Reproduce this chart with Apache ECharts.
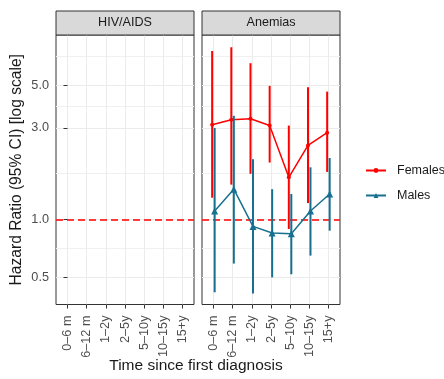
<!DOCTYPE html>
<html><head><meta charset="utf-8">
<script src="https://cdn.jsdelivr.net/npm/echarts@6/dist/echarts.min.js"></script>
<style>html,body{margin:0;padding:0;background:#fff}#c{width:444px;height:379px}</style>
</head><body><div id="c"></div>
<script>
const facets = ['HIV/AIDS', 'Anemias'];
const categories = ['0–6 m', '6–12 m', '1–2y', '2–5y', '5–10y', '10–15y', '15+y'];
const yTicks = [0.5, 1, 3, 5];
const yMinorTicks = [0.7071, 1.732, 3.873, 7.071];
const femalesHR = [3.11, 3.30, 3.34, 3.08, 1.66, 2.43, 2.83];
const femalesLow = [1.30, 1.52, 1.73, 1.98, 0.895, 1.22, 1.77];
const femalesHigh = [7.51, 7.85, 6.49, 4.95, 3.08, 4.87, 4.62];
const malesHR = [1.11, 1.44, 0.923, 0.853, 0.846, 1.11, 1.36];
const malesLow = [0.42, 0.592, 0.414, 0.502, 0.521, 0.651, 0.877];
const malesHigh = [2.99, 3.46, 2.06, 1.44, 1.36, 1.87, 2.09];
const refLine = 1;

const FONT = '"Liberation Sans", Arial, sans-serif';
const RED = '#FF0000', BLUE = '#17708F';
const DODGE_F = -0.07, DODGE_M = 0.06;
const Y_MIN = 0.363, Y_MAX = 9.09;
const catIdx = categories.map((c, i) => i);
const PANEL_W = 138, PANEL_TOP = 35, PANEL_H = 269.5;
const panelLeft = [56, 202];

const chart = echarts.init(document.getElementById('c'), null, {renderer: 'canvas'});

const grids = panelLeft.map(l => ({left: l, top: PANEL_TOP, width: PANEL_W, height: PANEL_H,
  show: true, borderColor: '#333333', borderWidth: 1, backgroundColor: '#fff', containLabel: false}));

const xAxes = panelLeft.map((l, g) => ({
  gridIndex: g, type: 'value', min: -0.6, max: 6.6, splitNumber: 7,
  axisLine: {show: false},
  axisTick: {show: true, length: 4, lineStyle: {color: '#333333', width: 1}, customValues: catIdx},
  axisLabel: {customValues: catIdx, rotate: 90, margin: 11, fontSize: 12.7, color: '#4D4D4D', fontFamily: FONT,
    formatter: v => categories[Math.round(v)] || ''},
  splitLine: {show: true, lineStyle: {color: '#EBEBEB', width: 1}}
}));

const yAxes = [];
panelLeft.forEach((l, g) => {
  yAxes.push({
    gridIndex: g, type: 'log', logBase: 10, min: Y_MIN, max: Y_MAX,
    axisLine: {show: false},
    axisTick: {show: g === 0, length: 4, lineStyle: {color: '#333333', width: 1}, customValues: yTicks},
    axisLabel: {show: g === 0, customValues: yTicks, margin: 7, fontSize: 12.7, color: '#4D4D4D', fontFamily: FONT,
      formatter: v => Number(v).toFixed(1)},
    splitLine: {show: true, lineStyle: {color: '#EBEBEB', width: 1}},
    name: g === 0 ? 'Hazard Ratio (95% CI) [log scale]' : '',
    nameLocation: 'middle', nameGap: 31,
    nameTextStyle: {fontSize: 15.6, color: '#1A1A1A', fontFamily: FONT}
  });
  yAxes.push({
    gridIndex: g, type: 'log', logBase: 10, min: Y_MIN, max: Y_MAX,
    axisLine: {show: false},
    axisTick: {show: false, customValues: yMinorTicks},
    axisLabel: {show: false, customValues: yMinorTicks},
    splitLine: {show: true, lineStyle: {color: '#F0F0F0', width: 1}}
  });
});

function errBar(color) {
  return function (params, api) {
    const x = api.value(0);
    const p1 = api.coord([x, api.value(1)]);
    const p2 = api.coord([x, api.value(2)]);
    return {type: 'line', shape: {x1: p1[0], y1: p1[1], x2: p2[0], y2: p2[1]},
      style: {stroke: color, lineWidth: 2}};
  };
}

const refMark = {
  symbol: 'none', silent: true, label: {show: false},
  lineStyle: {color: RED, type: [7, 4], width: 1.5},
  data: [{yAxis: refLine}]
};

const series = [
  {name: 'ref0', type: 'line', xAxisIndex: 0, yAxisIndex: 0, data: [], markLine: refMark, z: 1},
  {name: 'Females CI', type: 'custom', xAxisIndex: 1, yAxisIndex: 2,
    renderItem: errBar(RED), encode: {x: 0, y: [1, 2]},
    data: catIdx.map(i => [i + DODGE_F, femalesLow[i], femalesHigh[i]]), z: 3},
  {name: 'Females', type: 'line', xAxisIndex: 1, yAxisIndex: 2,
    data: catIdx.map(i => [i + DODGE_F, femalesHR[i]]),
    symbol: 'circle', symbolSize: 4, showSymbol: true,
    lineStyle: {color: RED, width: 1.5}, itemStyle: {color: RED}, z: 4,
    markLine: refMark},
  {name: 'Males CI', type: 'custom', xAxisIndex: 1, yAxisIndex: 2,
    renderItem: errBar(BLUE), encode: {x: 0, y: [1, 2]},
    data: catIdx.map(i => [i + DODGE_M, malesLow[i], malesHigh[i]]), z: 5},
  {name: 'Males', type: 'line', xAxisIndex: 1, yAxisIndex: 2,
    data: catIdx.map(i => [i + DODGE_M, malesHR[i]]),
    symbol: 'triangle', symbolSize: 7, showSymbol: true,
    lineStyle: {color: BLUE, width: 1.5}, itemStyle: {color: BLUE}, z: 6}
];

const graphic = [];
facets.forEach((f, g) => {
  graphic.push({type: 'rect', shape: {x: panelLeft[g], y: 11, width: PANEL_W, height: 24},
    style: {fill: '#D9D9D9', stroke: '#333333', lineWidth: 1}, z: 10});
  graphic.push({type: 'text', x: panelLeft[g] + PANEL_W / 2, y: 23,
    style: {text: f, fill: '#1A1A1A', font: '12.6px ' + FONT, textAlign: 'center', textVerticalAlign: 'middle'}, z: 11});
});
graphic.push({type: 'text', x: 196, y: 366,
  style: {text: 'Time since first diagnosis', fill: '#1A1A1A', font: '15.5px ' + FONT,
    textAlign: 'center', textVerticalAlign: 'middle'}});

chart.setOption({
  animation: false,
  grid: grids, xAxis: xAxes, yAxis: yAxes, series: series, graphic: graphic,
  legend: {orient: 'vertical', left: 360, top: 159, itemWidth: 20, itemHeight: 6, itemGap: 12,
    data: ['Females', 'Males'],
    textStyle: {fontSize: 12.5, color: '#1A1A1A', fontFamily: FONT, padding: [0, 0, 0, 6]}}
});
</script></body></html>
